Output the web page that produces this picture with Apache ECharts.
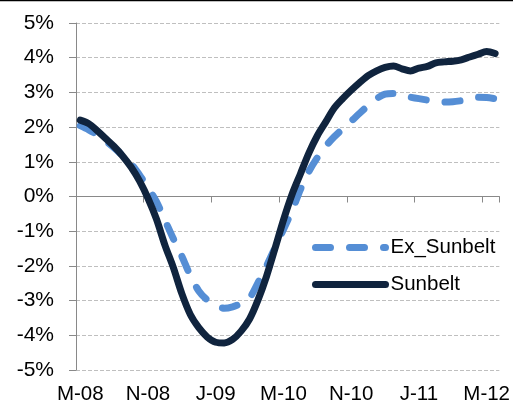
<!DOCTYPE html>
<html>
<head>
<meta charset="utf-8">
<script src="https://cdn.jsdelivr.net/npm/echarts@6/dist/echarts.min.js"></script>
<style>
html,body{margin:0;padding:0;background:#fff;}
#chart{width:513px;height:405px;}
</style>
</head>
<body>
<div id="chart"></div>
<script>
// Monthly categories, Mar 2008 - Apr 2012
var categories = [
  "M-08","A-08","M-08","J-08","J-08","A-08","S-08","O-08","N-08","D-08",
  "J-09","F-09","M-09","A-09","M-09","J-09","J-09","A-09","S-09","O-09","N-09","D-09",
  "J-10","F-10","M-10","A-10","M-10","J-10","J-10","A-10","S-10","O-10","N-10","D-10",
  "J-11","F-11","M-11","A-11","M-11","J-11","J-11","A-11","S-11","O-11","N-11","D-11",
  "J-12","F-12","M-12","A-12"
];
var seriesNames = ["Ex_Sunbelt", "Sunbelt"];
// values in %
var exSunbelt = [
  2.04, 1.92, 1.78, 1.60, 1.40, 1.18, 0.95, 0.62, 0.25, -0.15,
  -0.68, -1.22, -1.72, -2.28, -2.72, -2.98, -3.14, -3.22, -3.18, -3.08,
  -2.92, -2.48, -2.00, -1.48, -0.95, -0.42, 0.20, 0.72, 1.12, 1.45,
  1.72, 1.95, 2.17, 2.40, 2.62, 2.82, 2.95, 2.97, 2.90, 2.86,
  2.82, 2.78, 2.74, 2.72, 2.73, 2.76, 2.80, 2.86, 2.85, 2.82
];
var sunbelt = [
  2.20, 2.10, 1.90, 1.67, 1.44, 1.17, 0.85, 0.45, -0.05, -0.65,
  -1.40, -2.05, -2.80, -3.40, -3.78, -4.05, -4.20, -4.22, -4.12, -3.88,
  -3.53, -2.98, -2.30, -1.50, -0.68, 0.05, 0.65, 1.25, 1.75, 2.15,
  2.55, 2.82, 3.06, 3.28, 3.48, 3.62, 3.72, 3.76, 3.68, 3.62,
  3.70, 3.75, 3.85, 3.88, 3.90, 3.94, 4.02, 4.10, 4.18, 4.12
];
var yTicks = {min: -5, max: 5, step: 1};

var FONT = "Liberation Sans, Arial, sans-serif";
var chart = echarts.init(document.getElementById('chart'), null, {renderer: 'canvas'});
chart.setOption({
  animation: false,
  backgroundColor: '#ffffff',
  graphic: [{
    type: 'rect', left: 0, top: 0,
    shape: {width: 513, height: 1.3},
    style: {fill: '#000000'}, silent: true
  }],
  grid: {left: 76, right: 13, top: 23, bottom: 34.5, containLabel: false},
  legend: {
    orient: 'vertical',
    left: 307, top: 232,
    itemWidth: 70, itemHeight: 2, itemGap: 16,
    lineStyle: {width: 7, cap: 'round'},
    itemStyle: {opacity: 0},
    textStyle: {fontFamily: FONT, fontSize: 20.5, color: '#000', lineHeight: 21},
    data: seriesNames
  },
  xAxis: [{
    type: 'category',
    data: categories,
    position: 'bottom',
    boundaryGap: true,
    axisLine: {onZero: true, lineStyle: {color: '#898989', width: 1}},
    axisTick: {show: true, interval: 7, length: 6, lineStyle: {color: '#898989'}},
    axisLabel: {show: false},
    splitLine: {show: false}
  }, {
    type: 'category',
    data: categories,
    position: 'bottom',
    boundaryGap: true,
    axisLine: {show: false, onZero: false},
    axisTick: {show: false},
    axisLabel: {show: true, interval: 7, margin: 14, fontFamily: FONT, fontSize: 20.5, color: '#000'},
    splitLine: {show: false}
  }],
  yAxis: {
    type: 'value',
    min: yTicks.min, max: yTicks.max, interval: yTicks.step,
    axisLine: {show: true, lineStyle: {color: '#898989', width: 1}},
    axisTick: {show: true, length: 7, lineStyle: {color: '#898989'}},
    axisLabel: {formatter: '{value}%', margin: 22, fontFamily: FONT, fontSize: 21, color: '#000'},
    splitLine: {show: true, lineStyle: {color: '#BFBFBF', type: [4, 2], width: 1}}
  },
  series: [{
    name: seriesNames[0],
    type: 'line',
    xAxisIndex: 0,
    data: exSunbelt,
    symbol: 'none',
    smooth: 0.3,
    lineStyle: {color: '#558ED5', width: 7, type: [15, 19], cap: 'round', join: 'round'},
    itemStyle: {color: '#558ED5'},
    z: 2
  }, {
    name: seriesNames[1],
    type: 'line',
    xAxisIndex: 0,
    data: sunbelt,
    symbol: 'none',
    smooth: 0.3,
    lineStyle: {color: '#10243E', width: 7, cap: 'round', join: 'round'},
    itemStyle: {color: '#10243E'},
    z: 3
  }]
});
</script>
</body>
</html>
